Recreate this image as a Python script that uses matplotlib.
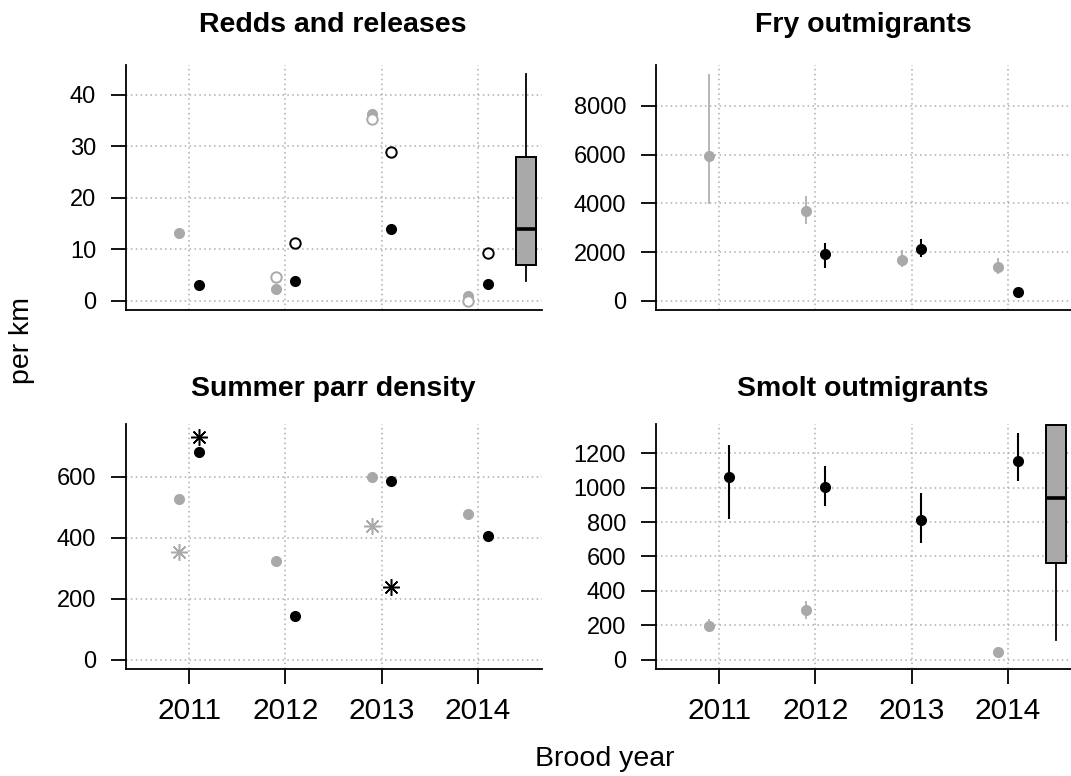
import matplotlib
matplotlib.use("Agg")
import matplotlib.pyplot as plt
import numpy as np

plt.rcParams['font.family'] = ['Liberation Sans', 'DejaVu Sans']

# brood years, gray = reference group, black = treatment group
years = np.array([2011, 2012, 2013, 2014])
nan = np.nan

# Redds and releases (per km)
redds_ref = [13.1, 2.3, 36.3, 1.0]
releases_ref = [nan, 4.7, 35.3, 0.0]
redds_trt = [3.0, 3.9, 13.9, 3.2]
releases_trt = [nan, 11.2, 28.9, 9.3]
redds_box = dict(whislo=3.9, q1=7.05, med=13.9, q3=27.9, whishi=44.0)

# Fry outmigrants
fry_ref = [5930, 3690, 1680, 1393]
fry_ref_lo = [3963, 3168, 1406, 1094]
fry_ref_hi = [9291, 4316, 2090, 1750]
fry_trt = [nan, 1939, 2131, 381]
fry_trt_lo = [nan, 1340, 1790, 360]
fry_trt_hi = [nan, 2390, 2541, 400]

# Summer parr density
parr_ref = [526, 322, 598, 479]
parr_trt = [681, 142, 585, 407]
parr_ref_star = [352, nan, 438, nan]
parr_trt_star = [728, nan, 238, nan]

# Smolt outmigrants
smolt_ref = [197, 289, nan, 45]
smolt_ref_lo = [161, 240, nan, 37]
smolt_ref_hi = [236, 339, nan, 53]
smolt_trt = [1059, 1003, 811, 1157]
smolt_trt_lo = [817, 893, 677, 1039]
smolt_trt_hi = [1249, 1127, 966, 1316]
smolt_box = dict(whislo=116, q1=563, med=942, q3=1366, whishi=1650)

gray = '#A9A9A9'
off = 0.1

fig = plt.figure(figsize=(10.71, 7.76), dpi=100)
W = 1071.0
H = 776.0
def add_ax(x0, y0, x1, y1):
    return fig.add_axes([x0 / W, 1 - y1 / H, (x1 - x0) / W, (y1 - y0) / H])

ax1 = add_ax(126, 65, 542, 310)
ax2 = add_ax(656, 65, 1072, 310)
ax3 = add_ax(126, 424, 542, 669)
ax4 = add_ax(656, 424, 1072, 669)

def style(ax, title, ylim, yticks, bottom, title_y):
    ax.set_xlim(2010.345, 2014.665)
    ax.set_ylim(*ylim)
    ax.set_yticks(yticks)
    ax.set_xticks(years)
    ax.set_xticklabels([str(y) for y in years])
    ax.spines['top'].set_visible(False)
    ax.spines['right'].set_visible(False)
    ax.spines['left'].set_linewidth(1.3)
    ax.spines['bottom'].set_linewidth(1.3)
    ax.grid(True, color='#ADADAD', linestyle=(0, (1, 2.2)), linewidth=1.1)
    ax.set_axisbelow(True)
    ax.tick_params(axis='y', length=10.5, width=1.3, pad=11, labelsize=17)
    if bottom:
        ax.tick_params(axis='x', length=10.5, width=1.3, pad=10, labelsize=21.5)
    else:
        ax.tick_params(axis='x', length=0, labelbottom=False)
    # title placed by its baseline, in pixels from the top of the figure
    pos = ax.get_position()
    fig.text((pos.x0 + pos.x1) / 2 - 1 / W, 1 - title_y / H, title, fontsize=20.5,
             fontweight='bold', ha='center', va='baseline')

def errbars(ax, x, lo, hi, color, lw):
    ax.vlines(x, lo, hi, color=color, linewidth=lw, zorder=3)

def boxplot(ax, stats):
    ax.bxp([stats], positions=[2014.5], widths=0.2, patch_artist=True,
           showcaps=False, showfliers=False, manage_ticks=False,
           boxprops=dict(facecolor=gray, edgecolor='black', linewidth=1.4),
           medianprops=dict(color='black', linewidth=2.6),
           whiskerprops=dict(color='black', linewidth=1.3, linestyle='-'))

# Redds and releases
style(ax1, 'Redds and releases', (-1.76, 45.76), [0, 10, 20, 30, 40], False, 32)
ax1.plot(years - off, redds_ref, 'o', color=gray, ms=8, mec='none', zorder=4)
ax1.plot(years - off, releases_ref, 'o', mfc='white', mec=gray, ms=7.5, mew=1.4, zorder=4)
ax1.plot(years + off, redds_trt, 'o', color='black', ms=8, mec='none', zorder=4)
ax1.plot(years + off, releases_trt, 'o', mfc='white', mec='black', ms=7.5, mew=1.4, zorder=4)
boxplot(ax1, redds_box)

# Fry outmigrants
style(ax2, 'Fry outmigrants', (-372, 9672), [0, 2000, 4000, 6000, 8000], False, 32)
errbars(ax2, years - off, fry_ref_lo, fry_ref_hi, gray, 1.2)
errbars(ax2, years + off, fry_trt_lo, fry_trt_hi, 'black', 1.5)
ax2.plot(years - off, fry_ref, 'o', color=gray, ms=8, mec='none', zorder=4)
ax2.plot(years + off, fry_trt, 'o', color='black', ms=8, mec='none', zorder=4)

# Summer parr density
style(ax3, 'Summer parr density', (-30, 772), [0, 200, 400, 600], True, 396)
ax3.plot(years - off, parr_ref, 'o', color=gray, ms=8, mec='none', zorder=4)
ax3.plot(years + off, parr_trt, 'o', color='black', ms=8, mec='none', zorder=4)
ax3.plot(years - off, parr_ref_star, marker=(8, 2, 0), ls='none', color=gray, ms=12, mew=1.1, zorder=4)
ax3.plot(years + off, parr_trt_star, marker=(8, 2, 0), ls='none', color='black', ms=12, mew=1.1, zorder=4)

# Smolt outmigrants
style(ax4, 'Smolt outmigrants', (-53, 1369), [0, 200, 400, 600, 800, 1000, 1200], True, 396)
errbars(ax4, years - off, smolt_ref_lo, smolt_ref_hi, gray, 1.2)
errbars(ax4, years + off, smolt_trt_lo, smolt_trt_hi, 'black', 1.5)
ax4.plot(years - off, smolt_ref, 'o', color=gray, ms=8, mec='none', zorder=4)
ax4.plot(years + off, smolt_trt, 'o', color='black', ms=8, mec='none', zorder=4)
boxplot(ax4, smolt_box)

fig.text(22 / W, 1 - 340 / H, 'per km', rotation=90, fontsize=20.5, ha='center', va='center')
fig.text(605 / W, 1 - 759 / H, 'Brood year', fontsize=20.5, ha='center', va='center')

fig.savefig('out.png', dpi=100)
